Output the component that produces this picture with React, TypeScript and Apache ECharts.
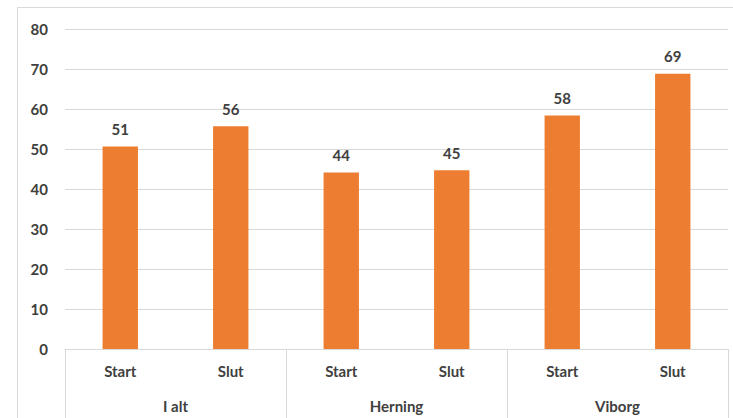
import React, { useEffect, useRef } from "react";
import * as echarts from "echarts";

const subCategories = ["Start", "Slut", "Start", "Slut", "Start", "Slut"];
const groups = ["I alt", "Herning", "Viborg"];
const values = [50.6, 55.7, 44.1, 44.7, 58.4, 68.8];
const yTicks = { min: 0, max: 80, interval: 10 };

const FONT = "Lato, 'Noto Sans', sans-serif";
const TXT = "#404040";
const FS = 15;

export default function App() {
  const ref = useRef<HTMLDivElement>(null);
  useEffect(() => {
    const chart = echarts.init(ref.current!, null, { renderer: "svg" });
    chart.setOption({
      animation: false,
      backgroundColor: "#ffffff",
      textStyle: { fontFamily: FONT },
      graphic: [
        {
          type: "rect",
          shape: { x: 17.5, y: 7.5, width: 800, height: 600 },
          style: { fill: "none", stroke: "#d9d9d9", lineWidth: 1 },
          silent: true,
        },
      ],
      grid: { left: 65, right: 5, top: 29, bottom: 69, containLabel: false },
      xAxis: [
        {
          type: "category",
          data: subCategories,
          position: "bottom",
          axisLine: { show: true, lineStyle: { color: "#d9d9d9" } },
          axisTick: { show: false },
          axisLabel: {
            color: TXT,
            fontSize: FS,
            fontWeight: "bold",
            fontFamily: FONT,
            margin: 14,
          },
        },
        {
          type: "category",
          data: groups,
          position: "bottom",
          axisLine: { show: false },
          axisTick: {
            show: true,
            length: 70,
            interval: 0,
            lineStyle: { color: "#d9d9d9" },
          },
          axisLabel: {
            color: TXT,
            fontSize: FS,
            fontWeight: "bold",
            fontFamily: FONT,
            margin: 49,
          },
        },
      ],
      yAxis: {
        type: "value",
        min: yTicks.min,
        max: yTicks.max,
        interval: yTicks.interval,
        axisLine: { show: false },
        axisTick: { show: false },
        splitLine: { lineStyle: { color: "#d9d9d9" } },
        axisLabel: {
          color: TXT,
          fontSize: FS,
          fontWeight: "bold",
          fontFamily: FONT,
          margin: 17,
        },
      },
      series: [
        {
          type: "bar",
          xAxisIndex: 0,
          data: values,
          barWidth: "32%",
          itemStyle: { color: "#ED7D31" },
          label: {
            show: true,
            position: "top",
            distance: 10,
            color: TXT,
            fontSize: FS,
            fontWeight: "bold",
            fontFamily: FONT,
            formatter: (p: any) => String(Math.round(p.value)),
          },
        },
      ],
    });
    return () => chart.dispose();
  }, []);
  return (
    <div
      ref={ref}
      style={{ position: "fixed", left: 0, top: 0, width: 733, height: 418 }}
    />
  );
}
